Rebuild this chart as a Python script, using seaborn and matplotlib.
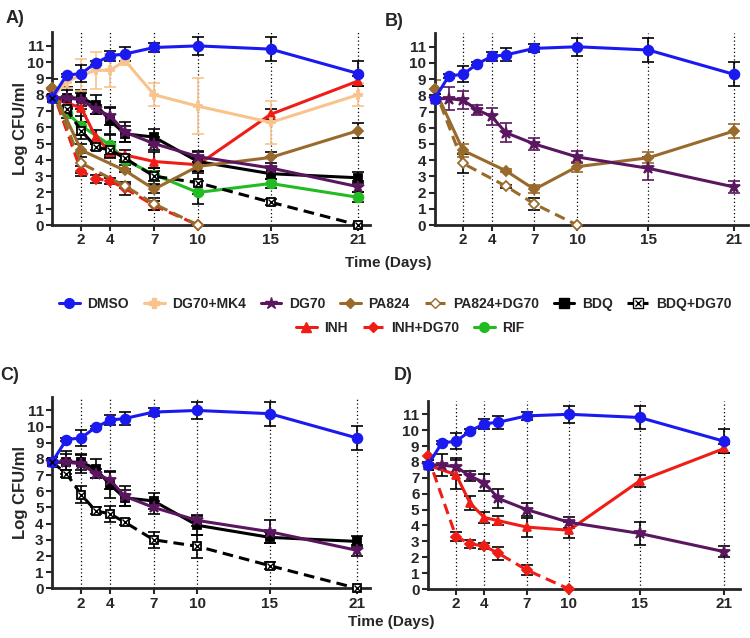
import pandas as pd
import numpy as np
import seaborn as sns
import matplotlib.pyplot as plt
from matplotlib.lines import Line2D

# tiempos y valores (Log CFU/ml)
t_all = [0, 1, 2, 3, 4, 5, 7, 10, 15, 21]

dmso = [7.8, 9.2, 9.3, 9.95, 10.4, 10.5, 10.9, 11.0, 10.8, 9.3]
dmso_err = [0.3, 0.1, 0.5, 0.1, 0.3, 0.4, 0.25, 0.55, 0.75, 0.75]

mk4 = [7.8, 8.8, 9.2, 9.5, 9.5, 10.1, 8.0, 7.3, 6.3, 8.0]
mk4_err = [0.2, 0.4, 1.0, 1.15, 1.0, 0.3, 0.7, 1.7, 1.3, 0.7]

dg70 = [7.8, 7.8, 7.7, 7.1, 6.7, 5.7, 5.0, 4.2, 3.5, 2.35]
dg70_err = [0.3, 0.7, 0.55, 0.3, 0.55, 0.6, 0.4, 0.35, 0.7, 0.35]

t_pa = [0, 2, 5, 7, 10, 15, 21]
pa824 = [8.4, 4.6, 3.35, 2.2, 3.6, 4.15, 5.8]
pa824_err = [0.55, 0.4, 0.1, 0.25, 0.3, 0.35, 0.45]

t_pa_dg = [0, 2, 5, 7, 10]
pa_dg = [8.4, 3.8, 2.4, 1.3, 0.0]
pa_dg_err = [0.0, 0.6, 0.1, 0.35, 0.0]

bdq = [7.8, 7.8, 7.8, 7.4, 6.4, 5.6, 5.4, 3.9, 3.15, 2.9]
bdq_err = [0.3, 0.5, 0.5, 0.6, 0.8, 0.5, 0.5, 0.6, 0.35, 0.35]

bdq_dg = [7.8, 7.1, 5.8, 4.8, 4.6, 4.1, 3.0, 2.6, 1.4, 0.0]
bdq_dg_err = [0.3, 0.2, 0.5, 0.2, 0.5, 0.2, 0.5, 0.7, 0.2, 0.0]

t_inh = [0, 2, 3, 4, 5, 7, 10, 15, 21]
inh = [7.8, 7.2, 5.4, 4.5, 4.3, 3.9, 3.7, 6.8, 8.85]
inh_err = [0.3, 0.9, 0.45, 0.35, 0.3, 0.6, 0.5, 0.35, 0.3]

t_inh_dg = [0, 2, 3, 4, 5, 7, 10]
inh_dg = [8.35, 3.3, 2.85, 2.7, 2.25, 1.2, 0.0]
inh_dg_err = [0.0, 0.3, 0.25, 0.2, 0.4, 0.3, 0.0]

t_rif = [0, 1, 2, 4, 5, 7, 10, 15, 21]
rif = [7.8, 6.9, 6.1, 4.9, 4.0, 3.1, 2.0, 2.55, 1.7]
rif_err = [0.3, 0.3, 0.6, 0.6, 0.3, 0.4, 0.7, 0.3, 0.3]

dias_ticks = [2, 4, 7, 10, 15, 21]

# nombre: (t, y, err, color, marker, dashed, relleno)
series = {
    'DMSO': (t_all, dmso, dmso_err, '#1a1af0', 'o', False, True),
    'DG70+MK4': (t_all, mk4, mk4_err, '#f8c38c', 'P', False, True),
    'DG70': (t_all, dg70, dg70_err, '#5a165e', '*', False, True),
    'PA824': (t_pa, pa824, pa824_err, '#986a2c', 'D', False, True),
    'PA824+DG70': (t_pa_dg, pa_dg, pa_dg_err, '#986a2c', 'D', True, False),
    'BDQ': (t_all, bdq, bdq_err, 'black', 's', False, True),
    'BDQ+DG70': (t_all, bdq_dg, bdq_dg_err, 'black', 's', True, False),
    'INH': (t_inh, inh, inh_err, '#f01c16', '^', False, True),
    'INH+DG70': (t_inh_dg, inh_dg, inh_dg_err, '#f01c16', 'D', True, True),
    'RIF': (t_rif, rif, rif_err, '#22bb22', 'o', False, True),
}

sns.set_style("ticks")
plt.rcParams['font.family'] = ['Liberation Sans Narrow', 'Liberation Sans', 'DejaVu Sans']
plt.rcParams['font.weight'] = 'bold'

fig = plt.figure(figsize=(7.5, 6.38), dpi=100)

paneles = [
    ('A)', [0.0693, 0.6473, 0.424, 0.3025], 21.8,
     ['DMSO', 'DG70+MK4', 'DG70', 'PA824', 'PA824+DG70', 'BDQ', 'BDQ+DG70', 'INH', 'INH+DG70', 'RIF'],
     {'DG70+MK4'}, True, (0.007, 0.985)),
    ('B)', [0.5795, 0.6473, 0.418, 0.301], 22.0,
     ['DMSO', 'DG70', 'PA824', 'PA824+DG70'], {'DG70', 'PA824'}, False, (0.513, 0.98)),
    ('C)', [0.0693, 0.0779, 0.424, 0.3003], 21.9,
     ['DMSO', 'DG70', 'BDQ', 'BDQ+DG70'], set(), True, (0.0, 0.425)),
    ('D)', [0.5704, 0.0768, 0.416, 0.295], 22.1,
     ['DMSO', 'DG70', 'INH', 'INH+DG70'], set(), False, (0.525, 0.425)),
]

for letra, rect, xmax, nombres, err_color, con_ylabel, pos_letra in paneles:
    ax = fig.add_axes(rect)
    for d in dias_ticks:
        ax.axvline(d, color='black', ls=(0, (1, 2)), lw=0.9, zorder=0)
    # dibujar al reves para que DMSO quede encima
    for nombre in nombres[::-1]:
        t, y, e, color, mk, dashed, relleno = series[nombre]
        ls = (0, (3.5, 2)) if dashed else '-'
        ms = {'*': 9, 'D': 5.5, 'o': 7}.get(mk, 6)
        sns.lineplot(x=t, y=y, color=color, marker=mk, markersize=ms, lw=2.2,
                     linestyle=ls, markeredgecolor=color,
                     markerfacecolor=color if relleno else 'white',
                     markeredgewidth=1.3, ax=ax, clip_on=False, zorder=3)
        if nombre == 'BDQ+DG70':
            ax.plot(t, y, 'x', color='black', ms=4, mew=1, clip_on=False, zorder=4)
        tt = [a for a, b in zip(t, e) if b > 0]
        yy = [a for a, b in zip(y, e) if b > 0]
        ee = [b for b in e if b > 0]
        ax.errorbar(tt, yy, yerr=ee, fmt='none',
                    ecolor=color if nombre in err_color else 'black',
                    elinewidth=1.2, capsize=4, capthick=1.2, zorder=2)
    ax.set_xlim(0, xmax)
    ax.set_ylim(0, 11.85)
    ax.set_xticks(dias_ticks)
    ax.set_yticks(range(0, 12))
    ax.tick_params(labelsize=11, width=1.5, length=4, pad=2)
    for lab in ax.get_xticklabels() + ax.get_yticklabels():
        lab.set_fontweight('bold')
    for s in ['left', 'bottom']:
        ax.spines[s].set_linewidth(2)
    sns.despine(ax=ax)
    ax.set_xlabel('')
    if con_ylabel:
        ax.set_ylabel('Log CFU/ml', fontsize=12, fontweight='bold')
        ax.yaxis.set_label_coords(-0.075, 0.5)
    fig.text(pos_letra[0], pos_letra[1], letra, fontsize=13, fontweight='bold', va='top')

fig.text(0.46, 0.588, 'Time (Days)', fontsize=11, fontweight='bold', ha='left', va='center')
fig.text(0.464, 0.025, 'Time (Days)', fontsize=11, fontweight='bold', ha='left', va='center')


def manija(nombre):
    t, y, e, color, mk, dashed, relleno = series[nombre]
    linea = Line2D([], [], color=color, marker=mk, lw=2.2,
                   ls=(0, (3, 1.5)) if dashed else '-',
                   markersize={'*': 9, 'D': 5}.get(mk, 7),
                   markerfacecolor=color if relleno else 'white',
                   markeredgecolor=color, label=nombre)
    if nombre == 'BDQ+DG70':
        return (linea, Line2D([], [], ls='none', marker='x', color='black', ms=4.5, mew=1))
    return linea


fila1 = ['DMSO', 'DG70+MK4', 'DG70', 'PA824', 'PA824+DG70', 'BDQ', 'BDQ+DG70']
fila2 = ['INH', 'INH+DG70', 'RIF']
for fila, yy, xc in [(fila1, 0.523, 0.527), (fila2, 0.486, 0.547)]:
    fig.legend(handles=[manija(n) for n in fila], labels=fila, loc='center', ncol=len(fila),
               bbox_to_anchor=(xc, yy), frameon=False,
               prop={'weight': 'bold', 'size': 10}, handlelength=1.5,
               columnspacing=1.05, handletextpad=0.55)

plt.savefig('out.png', dpi=100)
